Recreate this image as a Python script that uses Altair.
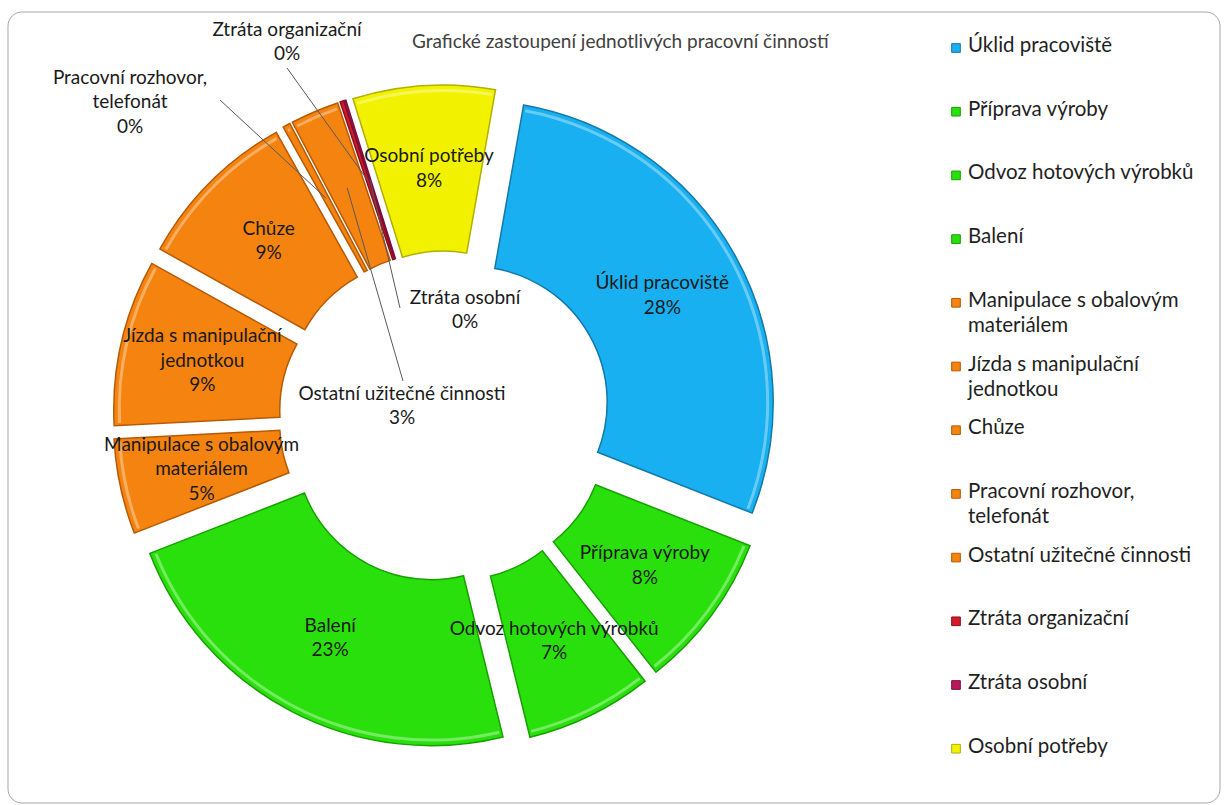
import math
import altair as alt
import pandas as pd

# ---------------- data ----------------
categories = [
    "Úklid pracoviště",
    "Příprava výroby",
    "Odvoz hotových výrobků",
    "Balení",
    "Manipulace s obalovým materiálem",
    "Jízda s manipulační jednotkou",
    "Chůze",
    "Pracovní rozhovor, telefonát",
    "Ostatní užitečné činnosti",
    "Ztráta organizační",
    "Ztráta osobní",
    "Osobní potřeby",
]
wrapped_names = [
    "Úklid pracoviště",
    "Příprava výroby",
    "Odvoz hotových výrobků",
    "Balení",
    "Manipulace s obalovým\nmateriálem",
    "Jízda s manipulační\njednotkou",
    "Chůze",
    "Pracovní rozhovor,\ntelefonát",
    "Ostatní užitečné činnosti",
    "Ztráta organizační",
    "Ztráta osobní",
    "Osobní potřeby",
]
values = [28.2, 8.4, 6.8, 22.9, 5.1, 8.9, 8.8, 0.4, 2.6, 0.2, 0.1, 7.6]
fill_colors = [
    "#18B0F0", "#2AE00C", "#2AE00C", "#2AE00C",
    "#F5830F", "#F5830F", "#F5830F", "#F5830F", "#F5830F",
    "#D21A2A", "#B8185A", "#F2F200",
]
edge_colors = [
    "#1279A8", "#17A000", "#17A000", "#17A000",
    "#B65A06", "#B65A06", "#B65A06", "#B65A06", "#B65A06",
    "#8E0E18", "#7E0E3E", "#B0B000",
]
title_text = "Grafické zastoupení jednotlivých pracovní činností"

# manually placed labels of the tiny slices (label centre, leader anchor)
label_override = {
    "Pracovní rozhovor, telefonát": (130, 102, 220, 100),
    "Ztráta organizační": (287, 42, 287, 68),
    "Ztráta osobní": (465, 310, 400, 308),
    "Ostatní užitečné činnosti": (402, 406, 403, 381),
}

df = pd.DataFrame({
    "idx": list(range(len(categories))),
    "cat": categories,
    "name": wrapped_names,
    "value": values,
})
df["ox"] = [label_override.get(c, (None,) * 4)[0] for c in categories]
df["oy"] = [label_override.get(c, (None,) * 4)[1] for c in categories]
df["ax"] = [label_override.get(c, (None,) * 4)[2] for c in categories]
df["ay"] = [label_override.get(c, (None,) * 4)[3] for c in categories]

# ---------------- geometry ----------------
W, H = 1228, 805
CX, CY = 445, 417
R_IN, R_OUT = 136, 302
EXPLODE = 30
START = math.radians(10)
LR = (R_IN + R_OUT) / 2 + EXPLODE
FONT = "Lato"
LBL_SIZE = 19
LBL_LH = 24.5

base = (
    alt.Chart(df)
    .transform_joinaggregate(total="sum(value)")
    .transform_window(cum="sum(value)", sort=[alt.SortField("idx")], frame=[None, 0])
    .transform_calculate(
        mid=f"{START} + 2*PI*(datum.cum - datum.value/2)/datum.total",
    )
    .transform_calculate(
        ex=f"{CX} + {EXPLODE}*sin(datum.mid)",
        ey=f"{CY} - {EXPLODE}*cos(datum.mid)",
        sx=f"{CX} + {LR}*sin(datum.mid)",
        sy=f"{CY} - {LR}*cos(datum.mid)",
        label="datum.name + '\\n' + round(datum.value) + '%'",
    )
    .transform_calculate(
        nl="length(split(datum.label, '\\n'))",
        lx="isValid(datum.ox) ? datum.ox : datum.sx",
        ly0="isValid(datum.oy) ? datum.oy : datum.sy",
    )
    .transform_calculate(
        ly=f"datum.ly0 - (datum.nl - 1) * {LBL_LH} / 2",
    )
)

xs = alt.X("ex:Q", scale=None, axis=None)
ys = alt.Y("ey:Q", scale=None, axis=None)
theta_enc = alt.Theta("value:Q", stack=True,
                      scale=alt.Scale(range=[START, START + 2 * math.pi]))

arcs = base.mark_arc(innerRadius=R_IN, outerRadius=R_OUT, strokeWidth=1.5).encode(
    theta=theta_enc,
    order=alt.Order("idx:Q"),
    x=xs,
    y=ys,
    color=alt.Color("cat:N", scale=alt.Scale(domain=categories, range=fill_colors), legend=None),
    stroke=alt.Stroke("cat:N", scale=alt.Scale(domain=categories, range=edge_colors), legend=None),
)

# glossy bevel highlight just inside the outer rim
gloss = base.mark_arc(innerRadius=R_OUT - 7, outerRadius=R_OUT - 4,
                      fill="white", fillOpacity=0.35, padAngle=0.012).encode(
    theta=theta_enc,
    order=alt.Order("idx:Q"),
    x=xs,
    y=ys,
)

leaders = base.transform_filter("isValid(datum.ax)").mark_rule(
    color="#595959", strokeWidth=1
).encode(
    x=alt.X("ax:Q", scale=None, axis=None),
    y=alt.Y("ay:Q", scale=None, axis=None),
    x2="sx:Q",
    y2="sy:Q",
)

labels = base.mark_text(
    font=FONT, fontSize=LBL_SIZE, color="#1a1a1a", lineBreak="\n",
    align="center", baseline="middle", lineHeight=LBL_LH,
).encode(
    x=alt.X("lx:Q", scale=None, axis=None),
    y=alt.Y("ly:Q", scale=None, axis=None),
    text="label:N",
)

legend_base = alt.Chart(df).transform_calculate(
    gy="48 + datum.idx * 63.7",
    ty="48 + datum.idx * 63.7 - 12",
)
legend_sym = legend_base.mark_square(size=75, opacity=1, strokeWidth=1).encode(
    x=alt.value(956),
    y=alt.Y("gy:Q", scale=None, axis=None),
    color=alt.Color("cat:N", scale=alt.Scale(domain=categories, range=fill_colors), legend=None),
    stroke=alt.Stroke("cat:N", scale=alt.Scale(domain=categories, range=edge_colors), legend=None),
)
legend_txt = legend_base.mark_text(
    font=FONT, fontSize=20.5, color="#1f1f1f", align="left", baseline="top",
    lineBreak="\n", lineHeight=25,
).encode(
    x=alt.value(968),
    y=alt.Y("ty:Q", scale=None, axis=None),
    text="name:N",
)

title = alt.Chart(pd.DataFrame({"t": [title_text]})).mark_text(
    font=FONT, fontSize=19, color="#404040", align="left", baseline="middle"
).encode(x=alt.value(412), y=alt.value(42), text="t:N")

border = alt.Chart(pd.DataFrame({"a": [0]})).mark_rect(
    fill="white", stroke="#A6A6A6", strokeWidth=1, cornerRadius=14
).encode(x=alt.value(8), x2=alt.value(1220), y=alt.value(12), y2=alt.value(803))

chart = alt.layer(border, arcs, gloss, leaders, labels, legend_sym, legend_txt, title).properties(
    width=W, height=H, padding=0, background="white",
    autosize=alt.AutoSizeParams(type="none"),
).configure_view(stroke=None)

chart.save("out.html", embed_options={"renderer": "svg", "actions": False})
